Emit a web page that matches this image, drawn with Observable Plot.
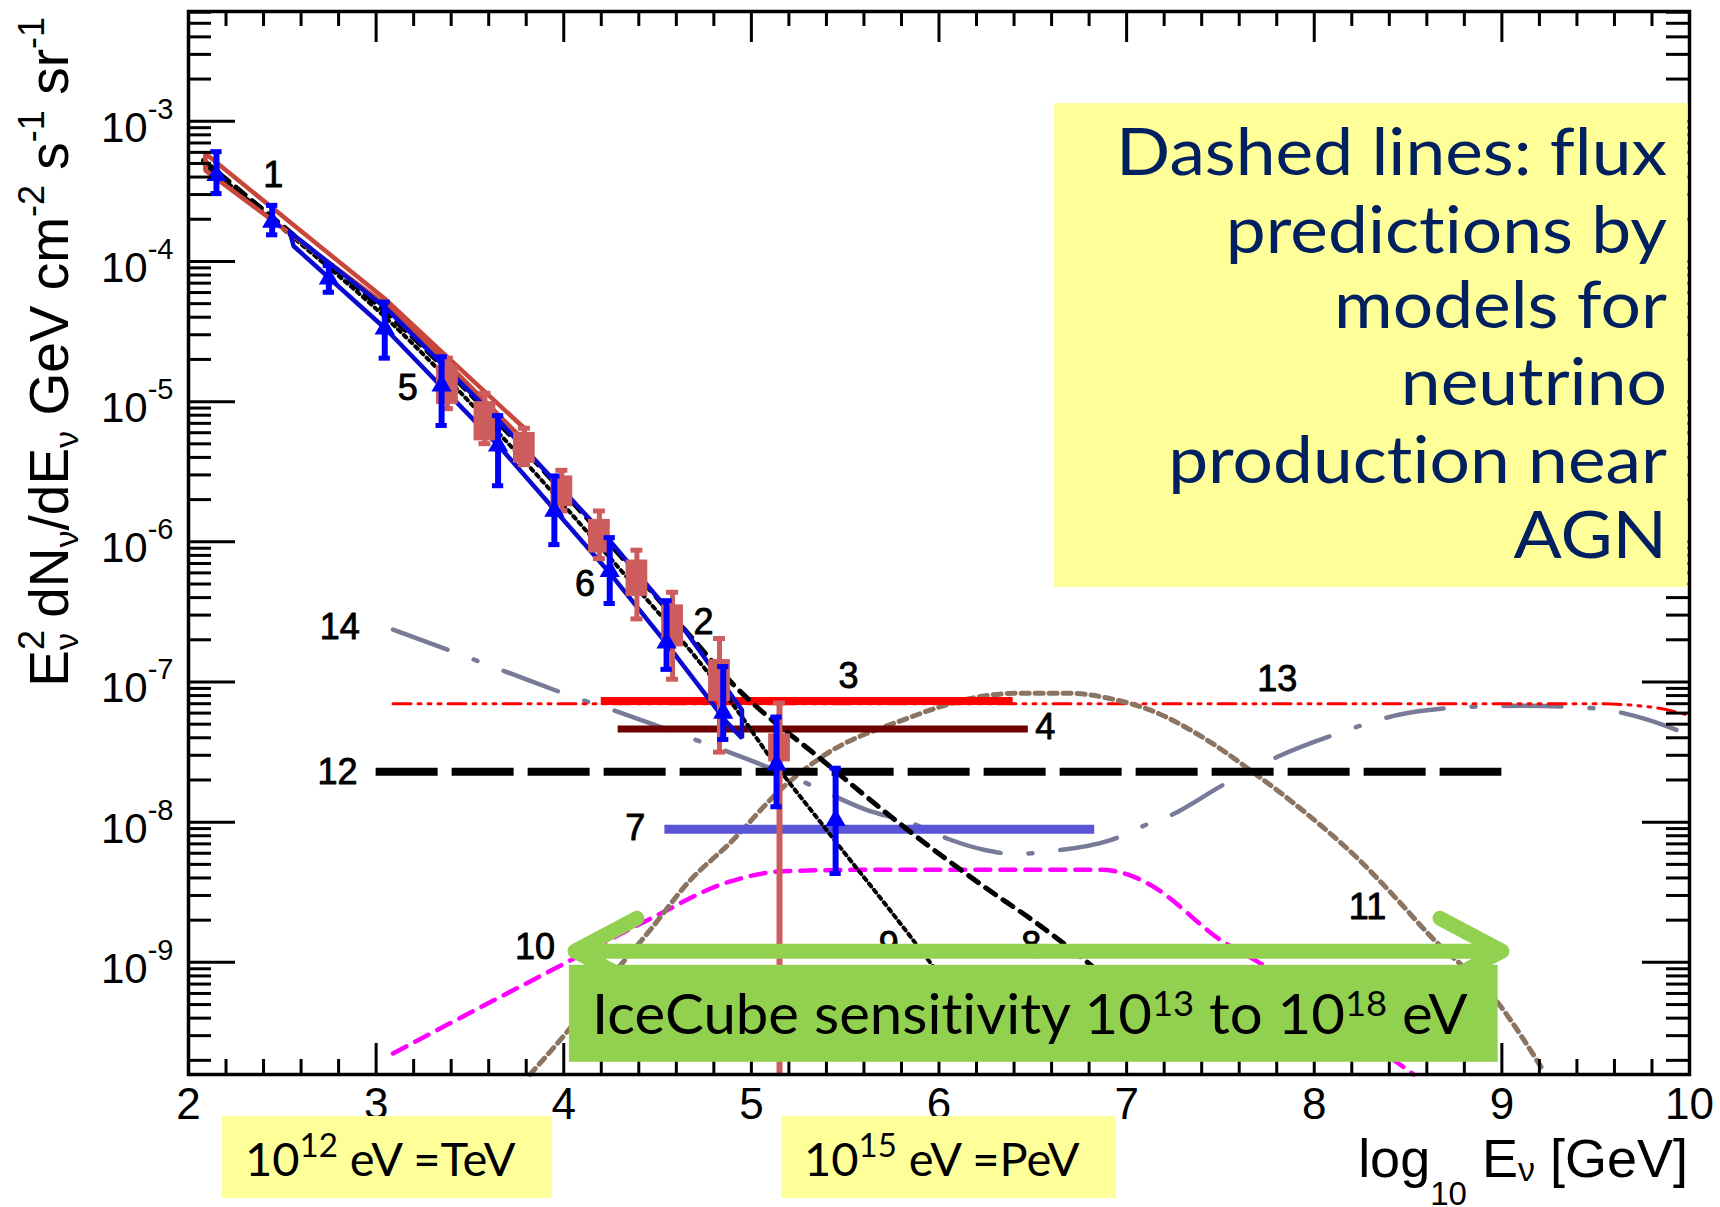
<!DOCTYPE html>
<html>
<head>
<meta charset="utf-8">
<script src="https://cdn.jsdelivr.net/npm/d3@7"></script>
<script src="https://cdn.jsdelivr.net/npm/@observablehq/plot@0.6"></script>
<style>
  html, body { margin: 0; padding: 0; background: #ffffff; }
  #chart { position: relative; width: 1720px; height: 1207px; overflow: hidden; background: #ffffff; }
  #chart svg { position: absolute; left: 0; top: 0; }
  #chart text { font-variant-ligatures: none; font-feature-settings: "liga" 0, "clig" 0; }
</style>
</head>
<body>
<div id="chart"></div>
<script>
// ---------------- data ----------------
// x = log10(E / GeV), y values stored as log10 of E^2 dN/dE
const xMajorTicks = [2, 3, 4, 5, 6, 7, 8, 9, 10];
const yMajorExponents = [-9, -8, -7, -6, -5, -4, -3];

// measurement 1 (red outlined band)
const band1Upper = [[2.09,-3.23],[2.55,-3.73],[3.05,-4.27],[3.33,-4.62],[3.79,-5.19]];
const band1Lower = [[2.09,-3.35],[2.55,-3.81],[3.05,-4.31],[3.33,-4.66],[3.79,-5.28]];
// measurements 5/6 (blue outlined band)
const bandBlueUpper = [[2.54,-3.79],[3.05,-4.33],[3.65,-5.13],[4.25,-6.00],[4.64,-6.62],[4.95,-7.20]];
const bandBlueLower = [[2.56,-3.89],[3.05,-4.48],[3.65,-5.31],[4.25,-6.23],[4.55,-6.73],[4.87,-7.29],[4.95,-7.40]];

// blue triangles with error bars: x, centre, upper, lower
const blueTriangles = [
  {x:2.149, y:-3.385, up:-3.217, dn:-3.516},
  {x:2.446, y:-3.718, up:-3.60,  dn:-3.81},
  {x:2.748, y:-4.123, up:-4.03,  dn:-4.22},
  {x:3.046, y:-4.48,  up:-4.29,  dn:-4.69},
  {x:3.349, y:-4.886, up:-4.68,  dn:-5.17},
  {x:3.65,  y:-5.315, up:-5.10,  dn:-5.60},
  {x:3.95,  y:-5.78,  up:-5.53,  dn:-6.02},
  {x:4.245, y:-6.21,  up:-5.97,  dn:-6.44},
  {x:4.548, y:-6.72,  up:-6.42,  dn:-6.91},
  {x:4.85,  y:-7.22,  up:-6.89,  dn:-7.41},
  {x:5.134, y:-7.59,  up:-7.25,  dn:-7.89},
  {x:5.449, y:-7.985, up:-7.615, dn:-8.366}
];
// red squares (measurement 2): x, centre, box half height, upper, lower
const redSquares = [
  {x:3.38, y:-4.88, box:0.14, up:-4.69, dn:-5.05},
  {x:3.58, y:-5.14, box:0.14, up:-4.94, dn:-5.30},
  {x:3.79, y:-5.33, box:0.11, up:-5.19, dn:-5.45},
  {x:3.99, y:-5.64, box:0.11, up:-5.49, dn:-5.78},
  {x:4.19, y:-5.96, box:0.12, up:-5.78, dn:-6.12},
  {x:4.39, y:-6.26, box:0.13, up:-6.06, dn:-6.55},
  {x:4.58, y:-6.60, box:0.15, up:-6.36, dn:-6.98},
  {x:4.83, y:-6.99, box:0.15, up:-6.69, dn:-7.50},
  {x:5.15, y:-7.47, box:0.10, up:-7.15, dn:-9.80}
];

// model / fit curves
const model8 = [[2.08,-3.28],[2.55,-3.80],[3.05,-4.36],[3.65,-5.15],[4.25,-6.02],[4.64,-6.62],[4.92,-7.04],[5.38,-7.56],[5.80,-8.02],[6.24,-8.46],[6.52,-8.72],[6.80,-9.01],[7.05,-9.30]];
const model9 = [[2.08,-3.30],[2.55,-3.82],[3.05,-4.40],[3.65,-5.22],[4.25,-6.12],[4.64,-6.72],[4.95,-7.25],[5.08,-7.50],[5.38,-8.02],[5.85,-8.82],[6.12,-9.30]];
const model10 = [[3.09,-9.65],[3.50,-9.36],[4.03,-8.99],[4.46,-8.69],[4.87,-8.43],[5.17,-8.35],[5.60,-8.34],[6.50,-8.34],[6.86,-8.34],[7.04,-8.39],[7.13,-8.45],[7.50,-8.84],[7.74,-9.03],[8.10,-9.38],[8.53,-9.80]];
const model11 = [[3.82,-9.80],[4.015,-9.50],[4.25,-9.105],[4.46,-8.77],[4.67,-8.42],[4.885,-8.15],[5.17,-7.75],[5.38,-7.53],[5.81,-7.27],[6.24,-7.10],[6.41,-7.08],[6.68,-7.08],[6.95,-7.13],[7.125,-7.20],[7.40,-7.39],[7.68,-7.65],[7.96,-7.94],[8.24,-8.27],[8.42,-8.52],[8.61,-8.80],[8.98,-9.29],[9.22,-9.77]];
const model13 = [[3.09,-7.155],[6.00,-7.155],[9.50,-7.155],[9.80,-7.18],[10.0,-7.24]];
const model14 = [[3.09,-6.626],[3.39,-6.774],[3.72,-6.941],[4.02,-7.091],[4.35,-7.241],[4.655,-7.389],[4.99,-7.556],[5.29,-7.72],[5.61,-7.91],[5.86,-8.01],[6.05,-8.12],[6.25,-8.20],[6.41,-8.228],[6.57,-8.21],[6.91,-8.13],[7.12,-8.01],[7.22,-7.96],[7.52,-7.73],[7.81,-7.53],[8.13,-7.365],[8.45,-7.234],[8.79,-7.18],[9.11,-7.17],[9.47,-7.186],[9.78,-7.27],[10.0,-7.38]];

// horizontal limits / sensitivities
const limit3  = [{x1:4.20, x2:6.395, y:-7.135}];
const limit4  = [{x1:4.29, x2:6.476, y:-7.336}];
const limit7  = [{x1:4.539, x2:6.83, y:-8.05}];
const limit12 = [{x1:3.00, x2:9.00, y:-7.64}];

// curve number labels
const curveLabels = [
  {label:"1",  x:2.452, y:-3.389},
  {label:"5",  x:3.169, y:-4.908},
  {label:"6",  x:4.114, y:-6.304},
  {label:"2",  x:4.745, y:-6.573},
  {label:"3",  x:5.518, y:-6.96},
  {label:"4",  x:6.566, y:-7.326},
  {label:"12", x:2.794, y:-7.643},
  {label:"14", x:2.806, y:-6.608},
  {label:"7",  x:4.381, y:-8.046},
  {label:"10", x:3.847, y:-8.891},
  {label:"9",  x:5.732, y:-8.883},
  {label:"8",  x:6.492, y:-8.883},
  {label:"13", x:7.803, y:-6.984},
  {label:"11", x:8.284, y:-8.606}
];

// IceCube sensitivity range (log10 E/GeV): 10^13 eV .. 10^18 eV
const icecubeArrow = [{from:6.53, to:4.06, y:-8.92}, {from:6.53, to:9.00, y:-8.92}];
const icecubeBox = [{x1:4.03, x2:8.98, y1:-9.713, y2:-9.021}];
const icecubeText = [{x:4.15, y:-9.509, text:"IceCube sensitivity 10^{13} to 10^{18} eV"}];

const noteLines = ["Dashed lines: flux", "predictions by", "models for", "neutrino", "production near", "AGN"];
const energyNotes = [{base:"10", sup:"12", rest:" eV =TeV"}, {base:"10", sup:"15", rest:" eV =PeV"}];

// ---------------- helpers ----------------
const pts = arr => arr.map(([x, e]) => ({x, y: 10 ** e}));
const closed = (upper, lower) => {
  const a = pts(upper), b = pts(lower).reverse();
  return [...a, ...b, a[0]];
};
const xMinorTicks = d3.range(2, 10.001, 0.2).filter(v => Math.abs(v - Math.round(v)) > 1e-6);
const yMinorTicks = [];
for (let e = -10; e <= -3; e++) for (let m = 2; m <= 9; m++) {
  const v = m * 10 ** e;
  if (v > 10 ** -9.8 && v < 10 ** -2.217) yMinorTicks.push(v);
}

const W = 1720, H = 1207, mL = 188, mR = 31, mT = 11, mB = 133;
const iW = W - mL - mR, iH = H - mT - mB;
const SANS = "'Liberation Sans', Arial, Helvetica, sans-serif";
const CAL = "Lato, 'Open Sans', sans-serif";
const RED = "#cd5c5c";

const plot = Plot.plot({
  width: W, height: H,
  marginLeft: mL, marginRight: mR, marginTop: mT, marginBottom: mB,
  x: {type: "linear", domain: [2, 10], axis: null},
  y: {type: "log", domain: [10 ** -9.8, 10 ** -2.217], axis: null},
  style: {fontFamily: SANS, background: "#ffffff", color: "black"},
  marks: [
    // model curves
    Plot.line(pts(model14), {x: "x", y: "y", curve: "monotone-x", stroke: "#777b98", strokeWidth: 4.5, strokeDasharray: "58,28,4,28"}),
    Plot.line(pts(model13), {x: "x", y: "y", curve: "monotone-x", stroke: "#ff0000", strokeWidth: 3, strokeDasharray: "18,7,3,7,3,7,3,7"}),
    Plot.line(pts(model10), {x: "x", y: "y", curve: "monotone-x", stroke: "#ff00ff", strokeWidth: 4.5, strokeDasharray: "15,10"}),
    Plot.line(pts(model11), {x: "x", y: "y", curve: "monotone-x", stroke: "#8c7462", strokeWidth: 5, strokeDasharray: "8,6"}),
    // horizontal limits
    Plot.ruleY(limit12, {y: d => 10 ** d.y, x1: "x1", x2: "x2", stroke: "black", strokeWidth: 8, strokeDasharray: "62,14"}),
    Plot.ruleY(limit3, {y: d => 10 ** d.y, x1: "x1", x2: "x2", stroke: "#ff0000", strokeWidth: 8}),
    Plot.ruleY(limit4, {y: d => 10 ** d.y, x1: "x1", x2: "x2", stroke: "#6e0000", strokeWidth: 7}),
    Plot.ruleY(limit7, {y: d => 10 ** d.y, x1: "x1", x2: "x2", stroke: "#5a55d8", strokeWidth: 9}),
    // atmospheric predictions
    Plot.line(pts(model9), {x: "x", y: "y", curve: "monotone-x", stroke: "black", strokeWidth: 4, strokeDasharray: "3.5,4.5"}),
    Plot.line(pts(model8), {x: "x", y: "y", curve: "monotone-x", stroke: "black", strokeWidth: 5, strokeDasharray: "12,9"}),
    // bands
    Plot.line(closed(band1Upper, band1Lower), {x: "x", y: "y", stroke: "#c8463c", strokeWidth: 4.5, strokeLinejoin: "miter"}),
    Plot.line(closed(bandBlueUpper, bandBlueLower), {x: "x", y: "y", stroke: "#0a0ad0", strokeWidth: 4.5, strokeLinejoin: "miter"}),
    // red squares
    Plot.ruleX(redSquares, {x: "x", y1: d => 10 ** d.dn, y2: d => 10 ** d.up, stroke: RED, strokeWidth: d => d.x > 5 ? 6 : 5}),
    Plot.ruleY(redSquares, {y: d => 10 ** d.up, x1: d => d.x - 0.032, x2: d => d.x + 0.032, stroke: RED, strokeWidth: 5}),
    Plot.ruleY(redSquares.filter(d => d.dn > -9.5), {y: d => 10 ** d.dn, x1: d => d.x - 0.032, x2: d => d.x + 0.032, stroke: RED, strokeWidth: 5}),
    Plot.rect(redSquares, {x1: d => d.x - 0.058, x2: d => d.x + 0.058, y1: d => 10 ** (d.y - d.box), y2: d => 10 ** (d.y + d.box), fill: RED}),
    // blue triangles
    Plot.ruleX(blueTriangles, {x: "x", y1: d => 10 ** d.dn, y2: d => 10 ** d.up, stroke: "#0000ff", strokeWidth: 6}),
    Plot.ruleY(blueTriangles, {y: d => 10 ** d.up, x1: d => d.x - 0.03, x2: d => d.x + 0.03, stroke: "#0000ff", strokeWidth: 5}),
    Plot.ruleY(blueTriangles, {y: d => 10 ** d.dn, x1: d => d.x - 0.03, x2: d => d.x + 0.03, stroke: "#0000ff", strokeWidth: 5}),
    Plot.dot(blueTriangles, {x: "x", y: d => 10 ** d.y, symbol: "triangle", r: 7.5, fill: "#0000ff", stroke: "none"}),
    // curve labels
    Plot.text(curveLabels, {x: "x", y: d => 10 ** d.y, text: "label", fontSize: 36, fill: "black", stroke: "black", strokeWidth: 0.9, fontFamily: SANS}),
    // frame and ticks
    Plot.frame({stroke: "black", strokeWidth: 3.5}),
    Plot.tickX(xMajorTicks, {x: d => d, insetTop: iH - 31, stroke: "black", strokeWidth: 3}),
    Plot.tickX(xMinorTicks, {x: d => d, insetTop: iH - 15, stroke: "black", strokeWidth: 3}),
    Plot.tickX(xMajorTicks, {x: d => d, insetBottom: iH - 31, stroke: "black", strokeWidth: 3}),
    Plot.tickX(xMinorTicks, {x: d => d, insetBottom: iH - 15, stroke: "black", strokeWidth: 3}),
    Plot.tickY(yMajorExponents, {y: e => 10 ** e, insetRight: iW - 47, stroke: "black", strokeWidth: 3}),
    Plot.tickY(yMinorTicks, {y: d => d, insetRight: iW - 23, stroke: "black", strokeWidth: 3}),
    Plot.tickY(yMajorExponents, {y: e => 10 ** e, insetLeft: iW - 47, stroke: "black", strokeWidth: 3}),
    Plot.tickY(yMinorTicks, {y: d => d, insetLeft: iW - 23, stroke: "black", strokeWidth: 3}),
    // tick labels
    Plot.text(xMajorTicks, {x: d => d, frameAnchor: "bottom", lineAnchor: "top", dy: 13, text: d => String(d), fontSize: 44, fill: "black", fontFamily: SANS}),
    Plot.text(yMajorExponents, {y: e => 10 ** e, frameAnchor: "left", textAnchor: "end", dx: -15, dy: 7, text: e => `10^{${e}}`, fontSize: 42, fill: "black", fontFamily: SANS}),
    // IceCube sensitivity arrow and box
    Plot.arrow(icecubeArrow, {x1: "from", x2: "to", y1: d => 10 ** d.y, y2: d => 10 ** d.y, stroke: "#92d050", strokeWidth: 15, headLength: 7, headAngle: 56, bend: 0, strokeLinecap: "round", strokeLinejoin: "round"}),
    Plot.rect(icecubeBox, {x1: "x1", x2: "x2", y1: d => 10 ** d.y1, y2: d => 10 ** d.y2, fill: "#92d050"}),
    Plot.text(icecubeText, {x: "x", y: d => 10 ** d.y, text: "text", textAnchor: "start", lineAnchor: "bottom", fontSize: 56, fill: "black", fontFamily: CAL})
  ]
});

const chart = document.getElementById("chart");
chart.appendChild(plot);

// ---------- rich text (superscripts / subscripts) ----------
const NS = "http://www.w3.org/2000/svg";
function buildText(el, parts) {
  el.textContent = "";
  let cur = 0, prev = null;
  for (const p of parts) {
    const ts = document.createElementNS(NS, "tspan");
    ts.textContent = p.t;
    if (p.size) ts.setAttribute("font-size", p.size);
    const off = p.off || 0;
    if (off !== cur) ts.setAttribute("dy", off - cur);
    cur = off;
    el.appendChild(ts);
    if (p.back && prev) ts.setAttribute("dx", -prev.getComputedTextLength());
    prev = ts;
  }
}
function parseMarkup(s, o) {
  const parts = [];
  for (const tok of s.split(/(\^\{[^}]*\}|_\{[^}]*\})/).filter(d => d.length)) {
    if (tok.startsWith("^{")) parts.push({t: tok.slice(2, -1), size: o.supSize, off: -o.rise});
    else if (tok.startsWith("_{")) parts.push({t: tok.slice(2, -1), size: o.subSize, off: o.drop});
    else parts.push({t: tok});
  }
  return parts;
}
function scaleX(el, s) {
  const t = el.getAttribute("transform") || "";
  el.setAttribute("transform", `${t} scale(${s},1)`);
}
plot.querySelectorAll("text").forEach(el => {
  const s = el.textContent;
  if (!s.includes("^{")) return;
  if (s.startsWith("IceCube")) {
    buildText(el, parseMarkup(s, {supSize: 35, rise: 18}));
    const w = el.getComputedTextLength();
    if (w > 0) scaleX(el, 876 / w);
  } else {
    buildText(el, parseMarkup(s, {supSize: 29, rise: 23}));
  }
});

// ---------- overlay: axis titles and annotation boxes ----------
const ov = d3.select(chart).append("svg").attr("width", W).attr("height", H)
  .attr("font-family", SANS).style("pointer-events", "none");

const yTitle = ov.append("text").attr("transform", "translate(68,17) rotate(-90)")
  .attr("text-anchor", "end").attr("font-size", 55).attr("fill", "black");
buildText(yTitle.node(), [
  {t: "E"}, {t: "2", size: 36, off: -24}, {t: "ν", size: 34, off: 10, back: true},
  {t: " dN"}, {t: "ν", size: 34, off: 10}, {t: "/dE"}, {t: "ν", size: 34, off: 10},
  {t: " GeV cm"}, {t: "-2", size: 36, off: -24}, {t: " s"}, {t: "-1", size: 36, off: -24},
  {t: " sr"}, {t: "-1", size: 36, off: -24}
]);
const xTitle = ov.append("text").attr("x", 1688).attr("y", 1177)
  .attr("text-anchor", "end").attr("font-size", 54).attr("fill", "black");
buildText(xTitle.node(), [
  {t: "log"}, {t: "10", size: 33, off: 28}, {t: " E"}, {t: "ν", size: 34, off: 4}, {t: " [GeV]"}
]);

// note box (top right)
ov.append("rect").attr("x", 1054).attr("y", 103).attr("width", 633.5).attr("height", 484).attr("fill", "#ffff99");
const noteBase = [175, 252.7, 328.3, 405, 482.7, 558.3];
const noteEls = noteLines.map((line, i) =>
  ov.append("text").attr("transform", `translate(1667,${noteBase[i]})`).attr("text-anchor", "end")
    .attr("font-family", CAL).attr("font-size", 66).attr("fill", "#002060").text(line).node());
const w0 = noteEls[0].getComputedTextLength();
const noteScale = w0 > 0 ? 551 / w0 : 1;
noteEls.forEach(el => scaleX(el, noteScale));

// energy notes (bottom)
const noteBoxes = [{x: 222, w: 330, tx: 245}, {x: 781, w: 335, tx: 804}];
energyNotes.forEach((n, i) => {
  const b = noteBoxes[i];
  ov.append("rect").attr("x", b.x).attr("y", 1116).attr("width", b.w).attr("height", 82).attr("fill", "#ffff99");
  const t = ov.append("text").attr("x", b.tx).attr("y", 1176).attr("font-family", CAL)
    .attr("font-size", 47).attr("fill", "black");
  buildText(t.node(), [{t: n.base}, {t: n.sup, size: 33, off: -19}, {t: n.rest}]);
});
</script>
</body>
</html>
